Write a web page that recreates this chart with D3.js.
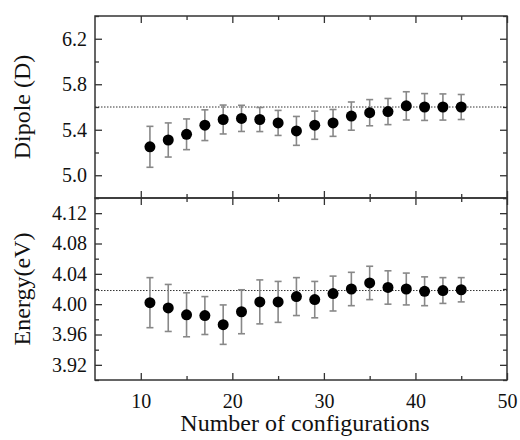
<!DOCTYPE html>
<html>
<head>
<meta charset="utf-8">
<script src="https://cdn.jsdelivr.net/npm/d3@7"></script>
<style>
  body { margin: 0; background: #fff; }
  svg { display: block; }
</style>
</head>
<body>
<svg id="chart" width="520" height="440"></svg>
<script>
// number of configurations
const configs = [11, 13, 15, 17, 19, 21, 23, 25, 27, 29, 31, 33, 35, 37, 39, 41, 43, 45];

// dipole (D) with error
const dipole    = [5.25, 5.31, 5.36, 5.44, 5.49, 5.50, 5.49, 5.46, 5.39, 5.44, 5.46, 5.52, 5.55, 5.56, 5.61, 5.60, 5.60, 5.60];
const dipoleErr = [0.18, 0.15, 0.135, 0.135, 0.127, 0.115, 0.106, 0.11, 0.127, 0.124, 0.118, 0.124, 0.115, 0.115, 0.124, 0.118, 0.115, 0.11];
const dipoleRef = 5.6;

// energy (eV) with error
const energy    = [4.002, 3.995, 3.986, 3.985, 3.973, 3.990, 4.003, 4.003, 4.010, 4.006, 4.014, 4.020, 4.028, 4.022, 4.020, 4.017, 4.018, 4.019];
const energyErr = [0.033, 0.031, 0.029, 0.025, 0.026, 0.029, 0.029, 0.027, 0.025, 0.024, 0.023, 0.022, 0.022, 0.022, 0.021, 0.019, 0.017, 0.016];
const energyRef = 4.018;

const dipoleTicks = [5.0, 5.4, 5.8, 6.2];
const energyTicks = [3.92, 3.96, 4.00, 4.04, 4.08, 4.12];
const xTicks = [10, 20, 30, 40, 50];

const serif = '"Liberation Serif", "DejaVu Serif", "Noto Serif", serif';
const frame = { left: 95, right: 507, top: 16, mid: 198, bottom: 380 };
const svg = d3.select('#chart');

const x = d3.scaleLinear().domain([5, 50]).range([frame.left, frame.right]);

const panels = [
  { y0: frame.top, y1: frame.mid, domain: [4.8, 6.4], ticks: dipoleTicks, minor: 0.2, fmt: d3.format('.1f'),
    vals: dipole, errs: dipoleErr, ref: dipoleRef, label: 'Dipole (D)', showX: false },
  { y0: frame.mid, y1: frame.bottom, domain: [3.90, 4.14], ticks: energyTicks, minor: 0.02, fmt: d3.format('.2f'),
    vals: energy, errs: energyErr, ref: energyRef, label: 'Energy(eV)', showX: true }
];

const major = 7, minorLen = 4;

panels.forEach((p) => {
  const y = d3.scaleLinear().domain(p.domain).range([p.y1, p.y0]);
  const g = svg.append('g');
  const minorY = d3.range(p.domain[0], p.domain[1] + 1e-9, p.minor)
    .filter(v => !p.ticks.some(t => Math.abs(t - v) < 1e-6));
  const minorX = [15, 25, 35, 45];

  // left axis
  g.append('g').attr('transform', `translate(${frame.left},0)`)
    .call(d3.axisLeft(y).tickValues(p.ticks).tickFormat(p.fmt).tickSizeInner(-major).tickSizeOuter(0).tickPadding(8));
  g.append('g').attr('transform', `translate(${frame.left},0)`)
    .call(d3.axisLeft(y).tickValues(minorY).tickFormat('').tickSizeInner(-minorLen).tickSizeOuter(0));
  // right axis
  g.append('g').attr('transform', `translate(${frame.right},0)`)
    .call(d3.axisRight(y).tickValues(p.ticks).tickFormat('').tickSizeInner(-major).tickSizeOuter(0));
  g.append('g').attr('transform', `translate(${frame.right},0)`)
    .call(d3.axisRight(y).tickValues(minorY).tickFormat('').tickSizeInner(-minorLen).tickSizeOuter(0));
  // top axis
  g.append('g').attr('transform', `translate(0,${p.y0})`)
    .call(d3.axisTop(x).tickValues(xTicks).tickFormat('').tickSizeInner(-major).tickSizeOuter(0));
  g.append('g').attr('transform', `translate(0,${p.y0})`)
    .call(d3.axisTop(x).tickValues(minorX).tickFormat('').tickSizeInner(-minorLen).tickSizeOuter(0));
  // bottom axis
  g.append('g').attr('transform', `translate(0,${p.y1})`)
    .call(d3.axisBottom(x).tickValues(xTicks).tickFormat(p.showX ? d3.format('d') : '').tickSizeInner(-major).tickSizeOuter(0).tickPadding(14));
  g.append('g').attr('transform', `translate(0,${p.y1})`)
    .call(d3.axisBottom(x).tickValues(minorX).tickFormat('').tickSizeInner(-minorLen).tickSizeOuter(0));

  g.selectAll('.domain').remove();
  g.selectAll('.tick line').attr('stroke', '#333').attr('stroke-width', 1.3);
  g.selectAll('.tick text').attr('font-family', serif).attr('font-size', 20).attr('fill', '#111');

  // frame
  g.append('rect').attr('x', frame.left).attr('y', p.y0).attr('width', frame.right - frame.left).attr('height', p.y1 - p.y0)
    .attr('fill', 'none').attr('stroke', '#333').attr('stroke-width', 1.5);

  // reference line
  g.append('line').attr('x1', frame.left).attr('x2', frame.right).attr('y1', y(p.ref)).attr('y2', y(p.ref))
    .attr('stroke', '#333').attr('stroke-width', 1).attr('stroke-dasharray', '1.5,1.5');

  // error bars
  const data = configs.map((c, i) => ({ c: c, v: p.vals[i], e: p.errs[i] }));
  const eb = g.append('g').attr('stroke', '#888').attr('stroke-width', 1.6);
  eb.selectAll('line.bar').data(data).enter().append('line')
    .attr('x1', d => x(d.c)).attr('x2', d => x(d.c))
    .attr('y1', d => y(d.v - d.e)).attr('y2', d => y(d.v + d.e));
  ['-', '+'].forEach((s) => {
    eb.selectAll('line.cap' + (s == '+' ? 'hi' : 'lo')).data(data).enter().append('line')
      .attr('x1', d => x(d.c) - 3.5).attr('x2', d => x(d.c) + 3.5)
      .attr('y1', d => y(s == '+' ? d.v + d.e : d.v - d.e))
      .attr('y2', d => y(s == '+' ? d.v + d.e : d.v - d.e));
  });

  // markers
  g.selectAll('circle').data(data).enter().append('circle')
    .attr('cx', d => x(d.c)).attr('cy', d => y(d.v)).attr('r', 5.5).attr('fill', '#000');

  // y label
  g.append('text').attr('text-anchor', 'middle')
    .attr('font-family', serif).attr('font-size', 24).attr('fill', '#111')
    .attr('transform', `translate(30,${(p.y0 + p.y1) / 2}) rotate(-90)`)
    .text(p.label);
});

svg.append('text').attr('text-anchor', 'middle')
  .attr('font-family', serif).attr('font-size', 24).attr('fill', '#111')
  .attr('x', (frame.left + frame.right) / 2 + 4).attr('y', 431)
  .text('Number of configurations');
</script>
</body>
</html>
